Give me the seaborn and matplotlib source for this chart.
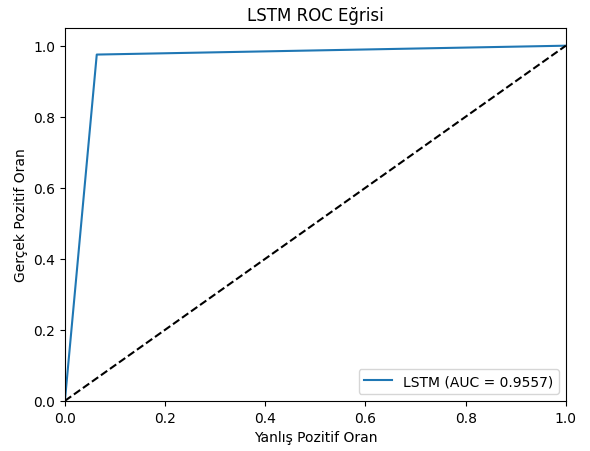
import matplotlib
matplotlib.use("Agg")
import matplotlib.pyplot as plt
import seaborn as sns
import pandas as pd

# ROC points
fpr = [0.0, 0.0636, 1.0]
tpr = [0.0, 0.975, 1.0]
auc_score = 0.9557
diag = [0.0, 1.0]

df = pd.DataFrame({'fpr': fpr, 'tpr': tpr})

fig, ax = plt.subplots(figsize=(5.9, 4.52), dpi=100)
fig.subplots_adjust(left=0.110, right=0.959, top=0.936, bottom=0.111)

sns.lineplot(data=df, x='fpr', y='tpr', ax=ax, color='#1f77b4',
             label=f'LSTM (AUC = {auc_score:.4f})', estimator=None, sort=False)
ax.plot(diag, diag, 'k--')

ax.set_xlim(0.0, 1.0)
ax.set_ylim(0.0, 1.05)
ax.set_xlabel('Yanlış Pozitif Oran')
ax.set_ylabel('Gerçek Pozitif Oran')
ax.set_title('LSTM ROC Eğrisi')
ax.legend(loc='lower right')

fig.savefig('out.png', dpi=100)
